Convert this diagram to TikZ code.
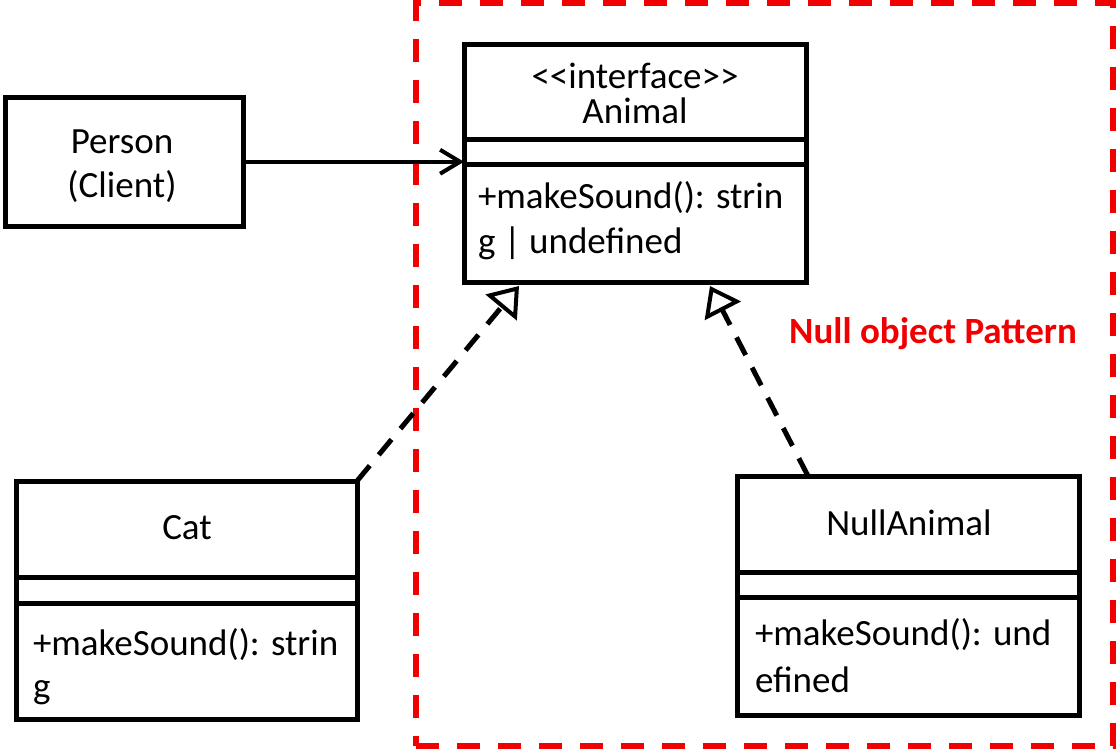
\documentclass[tikz,border=0pt]{standalone}
\usepackage{fontspec}
\setmainfont{Carlito}
\usetikzlibrary{arrows.meta,calc}
\definecolor{npred}{RGB}{240,0,0}
\begin{document}
\begin{tikzpicture}[x=1pt,y=-1pt,
  classbox/.style={draw=black, line width=5pt, anchor=north west, inner sep=0pt, outer sep=0pt},
  divider/.style={line width=5pt},
  txt/.style={font=\fontsize{37}{44}\selectfont, inner sep=0pt, outer sep=0pt},
  ctxt/.style={txt, anchor=base},
  ltxt/.style={txt, anchor=base west},
  assoc/.style={line width=4pt, -{Straight Barb[length=20pt,width=24pt,line width=4pt]}},
  realize/.style={line width=5pt, dash pattern=on 20pt off 14pt, -{Triangle[length=28pt,width=40pt,fill=white,line width=4pt]}},
  group/.style={draw=npred, line width=6pt, dash pattern=on 23pt off 18pt, anchor=north west, inner sep=0pt, outer sep=0pt}
]
\useasboundingbox (0,0) rectangle (1116,750);

% group frame
\node[group, minimum width=697pt, minimum height=743pt] (grp) at (416,3) {};
\node[txt, anchor=base, font=\fontsize{37}{44}\selectfont\bfseries, text=npred] (grplabel) at (933,343) {Null object Pattern};

% Person
\node[classbox, minimum width=238pt, minimum height=128.5pt] (person) at (5,97.5) {};
\node[ctxt] (person1) at (122,153) {Person};
\node[ctxt] (person2) at (122,197) {(Client)};

% Animal
\node[classbox, minimum width=342pt, minimum height=238pt] (animal) at (464,44) {};
\draw[divider] ($(animal.north west)+(0,95)$) -- ($(animal.north east)+(0,95)$);
\draw[divider] ($(animal.north west)+(0,120)$) -- ($(animal.north east)+(0,120)$);
\node[ctxt] (animal1) at (635,88) {<\kern0pt<interface>\kern0pt>};
\node[ctxt] (animal2) at (635,123) {Animal};
\node[ltxt] (animal3) at (478,208) {+makeSound(): strin};
\node[ltxt] (animal4) at (478,253) {g | undefined};

% Cat
\node[classbox, minimum width=341pt, minimum height=238pt] (cat) at (16,481) {};
\draw[divider] ($(cat.north west)+(0,96)$) -- ($(cat.north east)+(0,96)$);
\draw[divider] ($(cat.north west)+(0,122)$) -- ($(cat.north east)+(0,122)$);
\node[ctxt] (cat1) at (187,539) {Cat};
\node[ltxt] (cat2) at (33,655) {+makeSound(): strin};
\node[ltxt] (cat3) at (33,698) {g};

% NullAnimal
\node[classbox, minimum width=341.5pt, minimum height=239pt] (nullanimal) at (737.5,476) {};
\draw[divider] ($(nullanimal.north west)+(0,96)$) -- ($(nullanimal.north east)+(0,96)$);
\draw[divider] ($(nullanimal.north west)+(0,121.5)$) -- ($(nullanimal.north east)+(0,121.5)$);
\node[ctxt] (null1) at (909,535) {NullAnimal};
\node[ltxt] (null2) at (755,645) {+makeSound(): und};
\node[ltxt] (null3) at (755,692) {efined};

% connectors
\draw[assoc] (person.east) -- (person.east -| animal.west);
\coordinate (tipC) at (519,286);
\coordinate (tipN) at (710,286);
\draw[realize] (cat.north east) -- (tipC);
\draw[realize] ($(nullanimal.north west)+(70.5,0)$) -- (tipN);
\end{tikzpicture}
\end{document}
